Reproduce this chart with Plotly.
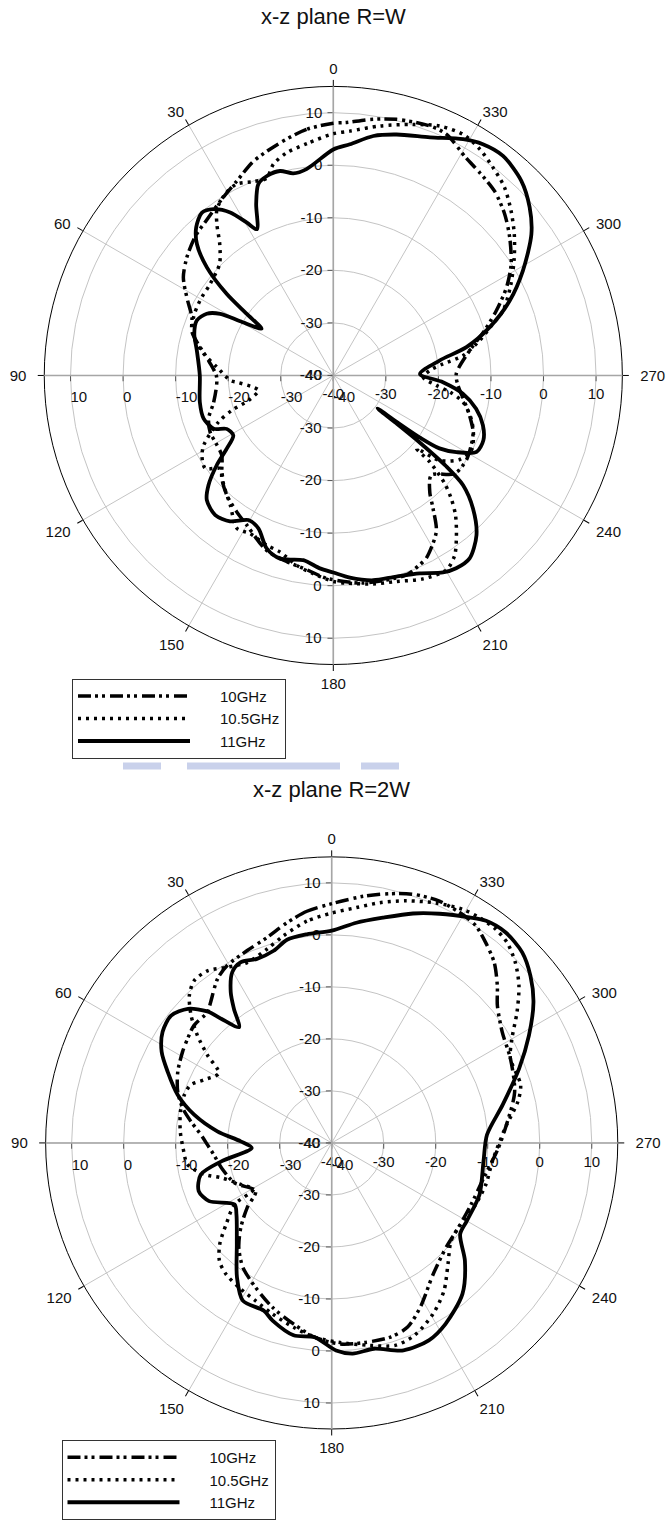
import plotly.graph_objects as go

W, H = 667, 1520

# ---- measured radiation patterns (theta in degrees, 0 at top, counter-clockwise; gain in dB) ----
# x-z plane, R = W
th_w_10 = [0, 6.2, 12.9, 20.4, 26.4, 32.3, 38.9, 44.7, 51.1, 56.8, 61.9, 67.6, 73, 83.2, 90.8,
           102.5, 109, 114.7, 121, 125.6, 132.8, 138.4, 144.7, 150, 159, 166, 172.2, 178, 188.2,
           200.1, 204.5, 207, 213.4, 216.9, 219.6, 224.5, 231, 237.5, 243.2, 248, 253.7, 258.6,
           265.4, 270.8, 280.4, 286.5, 291.7, 297, 302, 308, 313.3, 318.8, 324.2, 328.6, 334.9,
           338.9, 346.1, 351.9, 357, 360]
db_w_10 = [8.0, 7.1, 5.4, 3.5, 1.3, -0.3, -1.8, -2.7, -4.2, -5.9, -8.4, -10.9, -11.9, -16.1, -17.8,
           -16.7, -14.9, -14.2, -14.2, -13.9, -11.1, -9.5, -8.2, -7.1, -4.4, -3.5, -2.7, -1.4, -0.1,
           0.4, -0.4, -1.0, -4.4, -8.4, -11.2, -13.4, -10.3, -10.0, -10.6, -11.3, -13.0, -14.5,
           -16.2, -16.6, -13.6, -10.0, -6.6, -3.0, -0.1, 2.6, 4.8, 6.6, 7.6, 8.5, 10.7,
           10.9, 10.2, 9.2, 8.2, 8.0]

th_w_105 = [0, 6.5, 11.8, 15.8, 18.7, 22.4, 26.8, 30.8, 35, 37.6, 40.9, 45.6, 53.4, 60.6, 67.4,
            74.6, 80.5, 85.9, 92.8, 94, 98.3, 101.3, 106.4, 109, 112.1, 118.3, 121.8, 126, 129.5,
            135, 141.5, 147.8, 152.2, 158.6, 163.2, 169.1, 174.2, 180, 183.7, 190.8, 197, 203.8,
            210.2, 214, 217.6, 221.2, 223.8, 225.9, 228.1, 228.7, 231.4, 236.4, 241.5, 246.9,
            252.6, 258.4, 261.9, 264.5, 268.9, 273, 276, 278.7, 283.4, 287.9, 290.9, 297.2, 303.1,
            308, 312.8, 317.7, 322.5, 327.1, 331.7, 336.9, 342.4, 349.4, 356.1, 360]
db_w_105 = [6.0, 4.4, 3.3, 1.8, -0.4, -0.1, 0.8, 0.2, -1.4, -3.7, -7.0, -9.7, -10.8, -10.9, -11.2,
            -12.5, -15.0, -17.8, -20.4, -21.6, -24.6, -25.5, -23.2, -19.6, -16.4, -12.0, -10.6, -9.9, -12.1,
            -10.5, -8.5, -5.6, -6.0, -5.3, -4.9, -3.2, -2.1, -0.8, -0.4, 0.4, 1.0, 2.3,
            2.8, 1.3, -1.6, -4.7, -7.6, -10.5, -15.3, -18.9, -14.1, -11.1, -10.1, -11.0,
            -12.5, -14.8, -17.6, -20.3, -22.9, -21.6, -19.0, -15.0, -11.4, -8.1, -5.4, -2.0, 1.1,
            3.7, 6.1, 8.4, 9.9, 11.3, 12.1, 11.6, 10.1, 8.3, 6.6, 6.0]

th_w_11 = [0, 7.4, 11.2, 14.6, 18.4, 21.4, 24.2, 27.6, 29.5, 32.3, 35.8, 38.9, 42.8, 46.1, 49.5,
           52.6, 54.6, 56.9, 59.8, 61.4, 64, 68.1, 73.4, 79.6, 90, 101.3, 108.4, 114, 116.6, 121,
           124.5, 127.6, 131.3, 134.6, 139.8, 144.7, 149.6, 153.9, 159, 163.8, 170.8, 176, 180,
           184.7, 191, 197.4, 203.6, 209.1, 212.5, 216.7, 221.9, 226.4, 229.8, 231.2, 232.2, 232.8,
           233.3, 233.8, 234.4, 235.5, 238.1, 241.9, 246.7, 251.6, 256.9, 262, 266.5, 271, 278,
           282, 287.1, 292.9, 298.9, 305.5, 310.6, 316, 322.3, 327.1, 331.2, 337.9, 345.3, 350.5,
           355.9, 360]
db_w_11 = [3.0, -0.4, -0.8, 0.2, 0.0, -0.9, -4.2, -8.6, -6.6, -3.3, -1.0, -0.2, -1.6, -4.0, -8.4,
           -14.5, -19.8, -23.7, -19.5, -15.5, -13.2, -12.0, -12.4, -13.6, -14.6, -14.1, -14.0, -15.1, -17.3, -17.8,
           -15.4, -12.0, -8.4, -6.2, -5.2, -6.0, -8.1, -7.6, -4.7, -3.7, -4.4, -3.2, -2.5,
           -1.4, -0.3, 0.1, 1.1, 2.9, 3.5, 3.4, 0.8, -3.3, -7.7, -12.5, -19.2, -25.0,
           -29.5, -25.0, -19.5, -15.5, -12.4, -9.1, -8.9, -10.0, -12.1, -15.1, -19.1, -23.5, -19.6,
           -14.1, -8.9, -3.6, 1.2, 6.3, 9.2, 11.5, 12.8, 12.4, 11.3, 8.9, 7.4, 6.2,
           4.1, 3.0]

# x-z plane, R = 2W
th_2w_10 = [0, 6.1, 11.5, 17.5, 23.7, 30.5, 34.9, 40.7, 43.5, 49.5, 54.1, 58.6, 65.2, 71.6, 76.9,
            81.3, 86.4, 90.8, 95.6, 103, 112.3, 122.3, 127.5, 133, 138.4, 144.5, 152.2, 160.2,
            168.2, 175, 182.4, 189.6, 196.9, 202.4, 208.3, 217.7, 227.5, 236.2, 246.2, 257.1,
            268, 276, 285.5, 295.3, 303, 309.7, 313.5, 318, 322.5, 326.4, 330, 336, 341.9, 346.9,
            352.7, 360]
db_2w_10 = [6.0, 4.8, 3.2, 1.4, 0.4, -0.4, -1.6, -4.3, -5.3, -5.2, -5.8, -6.4, -7.4, -8.8, -10.6,
            -12.6, -14.8, -16.1, -17.2, -18.3, -19.8, -22.7, -19.5, -16.1, -13.1, -10.6, -8.6, -6.4,
            -4.4, -2.5, -1.3, -1.1, -1.0, -1.7, -4.1, -8.1, -10.2, -10.7, -10.7, -10.0,
            -8.0, -6.2, -3.5, -2.0, -0.9, 1.4, 3.9, 6.7, 8.6, 10.1, 10.6, 10.9, 10.3, 9.2,
            7.8, 6.0]

th_2w_105 = [0, 6.4, 13.1, 18.4, 25.1, 30.7, 35.8, 40.3, 44, 47.8, 51.3, 54.8, 58.3, 63.7, 67.6,
             72, 78.3, 85.6, 91.9, 98.6, 104, 107.6, 114.5, 120.7, 122.3, 127.6, 132.1, 136.4,
             141.1, 147.2, 154.2, 160.9, 168.3, 175, 182.4, 190.6, 197.4, 203.2, 210.7, 217.2,
             223.8, 230.6, 236.3, 246.9, 255, 263.5, 275, 282.6, 287.1, 295.3, 300, 305.2, 310,
             314.5, 318.8, 322.5, 326.8, 330.7, 336.5, 342.9, 348.7, 354, 360]
db_2w_105 = [4.2, 2.9, 0.9, -0.7, -1.7, -0.7, 0.8, 0.9, -0.6, -3.5, -6.9, -10.8, -14.5, -12.6, -10.7,
             -10.2, -10.3, -10.8, -11.4, -12.0, -14.9, -17.8, -20.8, -22.5, -17.9, -14.4, -11.0, -8.7,
             -7.6, -7.0, -6.3, -5.2, -3.8, -2.5, -1.6, -0.4, 0.8, 0.3, -1.8, -4.3,
             -7.7, -10.3, -10.7, -9.9, -9.3, -8.9, -6.5, -3.3, -2.0, -2.0, 0.0, 3.6, 7.0,
             9.5, 11.2, 11.8, 11.8, 11.5, 10.3, 8.7, 7.1, 5.5, 4.2]

th_2w_11 = [0, 6.8, 12.4, 16.8, 22.1, 26.8, 30.2, 33.8, 36.1, 38.7, 41.3, 43.4, 47, 51.6, 56.7,
            61.8, 66.5, 72.7, 78.4, 84.2, 89, 93.6, 99.4, 103.6, 109.9, 115.4, 122.3, 126.9,
            136.9, 144.8, 150.6, 158, 161.6, 168.8, 175, 181.2, 185.7, 191.6, 199.1, 206.2,
            212.2, 220.9, 228.5, 234.6, 240, 250.8, 263.2, 273, 282.6, 291.7, 298.6, 304.9, 310,
            315, 320.4, 325.2, 328.6, 334.8, 340.5, 347.2, 353.6, 360]
db_2w_11 = [0.8, 0.4, 0.0, -1.4, -1.8, -1.1, -2.0, -5.1, -8.1, -11.5, -8.6, -5.2, -2.2, -0.6, -1.1,
            -2.9, -5.6, -9.0, -13.0, -17.9, -22.5, -24.6, -18.6, -14.1, -12.8, -13.9, -17.9, -17.1,
            -13.3, -8.4, -5.2, -5.2, -4.0, -2.3, -2.5, -0.1, 0.7, 0.4, 2.2, 2.3,
            1.1, -1.6, -5.8, -9.7, -10.0, -9.9, -10.6, -10.1, -6.3, -1.2, 3.2, 7.3, 9.9,
            11.8, 12.5, 12.0, 10.8, 8.7, 6.8, 4.4, 2.6, 0.8]

series_names = ["10GHz", "10.5GHz", "11GHz"]
titles = ["x-z plane R=W", "x-z plane R=2W"]
radial_ticks = [-40, -30, -20, -10, 0, 10]
radial_ticktext = ["-40", "-30", "-20", "-10", "0", "10"]
angle_ticks = list(range(0, 360, 30))
NB = "\u00a0"
# side labels get a little extra clearance from the rim
angle_ticktext = ["0", "30", "60" + NB, "90" + NB * 2, "120" + NB, "150", "180",
                  "210", NB + "240", NB * 2 + "270", NB + "300", "330"]

charts = [
    dict(series=[(th_w_10, db_w_10), (th_w_105, db_w_105), (th_w_11, db_w_11)],
         cx=333.3, cy=376.7, rad=290, legend="legend", title_y=17),
    dict(series=[(th_2w_10, db_2w_10), (th_2w_105, db_2w_105), (th_2w_11, db_2w_11)],
         cx=331.7, cy=1146.7, rad=287, legend="legend2", title_y=792),
]

line_styles = [
    dict(color="black", width=3.5, dash="13px,4px,3px,4px,3px,5px", shape="spline", smoothing=0.8),
    dict(color="black", width=3.5, dash="3px,5px", shape="spline", smoothing=0.8),
    dict(color="black", width=3.8, dash="solid", shape="spline", smoothing=0.8),
]

FONT = "Liberation Sans, Arial, sans-serif"
GRID = "#c4c4c4"
AXLINE = "#a6a6a6"

# radial axes drawn along the four main directions: (angle, label side, label rotation)
radial_dirs = [(90, "counterclockwise", 90), (180, "counterclockwise", 180),
               (0, "clockwise", 0), (270, "clockwise", -90)]


def square_domain(cx, cy, rad):
    return dict(x=[(cx - rad) / W, (cx + rad) / W], y=[1 - (cy + rad) / H, 1 - (cy - rad) / H])


fig = go.Figure()
layout = {}
n = 0
for ci, ch in enumerate(charts):
    dom = square_domain(ch["cx"], ch["cy"], ch["rad"])
    for k, (ang, side, tang) in enumerate(radial_dirs):
        n += 1
        name = "polar" if n == 1 else f"polar{n}"
        main = k == 0
        last = k == len(radial_dirs) - 1
        radial = dict(range=[-40, 15], tickvals=radial_ticks, ticktext=radial_ticktext,
                      angle=ang, side=side, tickangle=tang, showline=True, linecolor=AXLINE,
                      linewidth=1.6, ticks="outside", ticklen=5, tickcolor="#555",
                      tickfont=dict(family=FONT, size=15, color="#111"),
                      showgrid=main, gridcolor=GRID, gridwidth=1,
                      layer="below traces" if last else "above traces")
        if main:
            angular = dict(rotation=90, direction="counterclockwise", tickvals=angle_ticks,
                           ticktext=angle_ticktext, ticks="outside", ticklen=6, tickcolor="black",
                           showline=True, linecolor="black", linewidth=1, showgrid=True,
                           gridcolor=GRID, gridwidth=1,
                           tickfont=dict(family=FONT, size=15, color="#111"))
            bg = "white"
        else:
            angular = dict(rotation=90, direction="counterclockwise", visible=False)
            bg = "rgba(0,0,0,0)"
        layout[name] = dict(domain=dom, bgcolor=bg, radialaxis=radial, angularaxis=angular)
        if last:
            for (th, db), nm, st in zip(ch["series"], series_names, line_styles):
                fig.add_trace(go.Scatterpolar(theta=th, r=db, mode="lines", name=NB * 6 + nm,
                                              line=st, subplot=name, legend=ch["legend"]))
        else:
            fig.add_trace(go.Scatterpolar(theta=[], r=[], mode="lines", subplot=name,
                                          showlegend=False, hoverinfo="skip"))

legend_common = dict(bgcolor="white", bordercolor="#333", borderwidth=1, itemwidth=112,
                     font=dict(family=FONT, size=15, color="#111"), xanchor="left", yanchor="top",
                     tracegroupgap=0)
layout["legend"] = dict(x=72 / W, y=1 - 681 / H, **legend_common)
layout["legend2"] = dict(x=61.5 / W, y=1 - 1445 / H, **legend_common)

annotations = []
for ch, t in zip(charts, titles):
    annotations.append(dict(text=t, x=ch["cx"] / W, y=1 - ch["title_y"] / H, xref="paper",
                            yref="paper", showarrow=False, xanchor="center", yanchor="middle",
                            font=dict(family=FONT, size=22, color="#111")))

# faint blue band between the two panels
band = [(123, 161), (187, 340), (361, 399)]
shapes = [dict(type="rect", xref="paper", yref="paper", x0=a / W, x1=b / W,
               y0=1 - 772 / H, y1=1 - 765 / H, line=dict(width=0),
               fillcolor="rgba(120,140,205,0.4)") for a, b in band]

fig.update_layout(width=W, height=H, margin=dict(l=0, r=0, t=0, b=0), paper_bgcolor="white",
                  showlegend=True, annotations=annotations, shapes=shapes, **layout)

fig.write_html("out.html")
